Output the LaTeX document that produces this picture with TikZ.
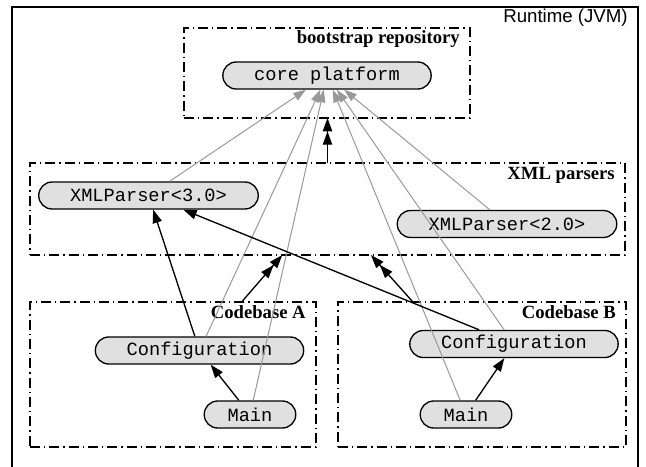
\documentclass[tikz,border=0pt]{standalone}
\usepackage{fontspec}
\setmainfont{Liberation Serif}
\setsansfont{Liberation Sans}
\setmonofont{Liberation Mono}
\usetikzlibrary{fit}
\usetikzlibrary{calc}
\usetikzlibrary{positioning}
\usetikzlibrary{arrows.meta}

\begin{document}
\begin{tikzpicture}[
  x=0.75pt, y=-0.75pt,
  cluster/.style={draw, rectangle, line width=1pt, dash pattern=on 7.5pt off 3pt on 1pt off 3pt, inner sep=0pt, outer sep=0pt},
  clusterlabel/.style={anchor=base east, inner sep=0pt, font=\bfseries\fontsize{14}{16}\selectfont},
  module/.style={draw, rectangle, rounded corners=10pt, fill=black!12, line width=1pt, minimum height=20.25pt, inner xsep=23.5pt, inner ysep=0pt, font=\ttfamily\fontsize{14}{16}\selectfont},
  mainmod/.style={module, inner xsep=17.5pt},
  dep/.style={line width=1pt, -{Triangle[length=10pt, width=7pt]}},
  grpdep/.style={line width=1pt, -{Triangle[length=10pt, width=7pt] Triangle[length=10pt, width=7pt]}},
  platdep/.style={black!40, line width=0.75pt, -{Triangle[length=9.5pt, width=6.5pt]}},
]
\useasboundingbox (0,0) rectangle (646,467);

% runtime frame, open at the bottom
\draw[line width=2pt] (12,467) |- (638,7) -- (638,467);
\node (runtime) [anchor=base east, inner sep=0pt, font=\sffamily\fontsize{14}{16}\selectfont] at (628,23) {Runtime (JVM)};

% clusters
\node (boot) [cluster, fit={(184,28) (470,118)}] {};
\node (xml)  [cluster, fit={(30,163) (625,255)}] {};
\node (cbA)  [cluster, fit={(30,302) (316,447)}] {};
\node (cbB)  [cluster, fit={(338,302) (626,447)}] {};

\node (bootlabel) [clusterlabel] at ([xshift=-7.5pt,yshift=-12pt]boot.north east) {bootstrap repository};
\node (xmllabel)  [clusterlabel] at ([xshift=-7.5pt,yshift=-12.5pt]xml.north east) {XML parsers};
\node (cbAlabel)  [clusterlabel] at ([xshift=-7.5pt,yshift=-12pt]cbA.north east) {Codebase A};
\node (cbBlabel)  [clusterlabel] at ([xshift=-7.5pt,yshift=-12pt]cbB.north east) {Codebase B};

% modules
\node (core)  [module] at (327,75.5) {core platform};
\node (xml3)  [module] at (148.5,195.5) {XMLParser<3.0>};
\node (xml2)  [module] at (507,224) {XMLParser<2.0>};
\node (confA) [module] at (199.5,350.5) {Configuration};
\node (mainA) [mainmod] at (250,414.5) {Main};
\node (confB) [module] at (514,344) {Configuration};
\node (mainB) [mainmod] at (466,414.5) {Main};

% dependencies on the platform
\foreach \src in {xml3,confA,mainA,mainB,confB,xml2} {
  \draw[platdep] (\src) -- (core);
}

% module dependencies
\draw[dep] (confA) -- (xml3);
\draw[dep] (confB) -- (xml3);
\draw[dep] (mainA) -- (confA);
\draw[dep] (mainB) -- (confB);

% cluster dependencies
\draw[grpdep] (xml.north) -- (xml.north |- boot.south);
\draw[grpdep]
  ($(cbA.north west)!0.74!(cbA.north east)$) -- ($(xml.south west)!0.424!(xml.south east)$);
\draw[grpdep]
  ($(cbB.north west)!0.26!(cbB.north east)$) -- ($(xml.south west)!0.573!(xml.south east)$);

\end{tikzpicture}
\end{document}
